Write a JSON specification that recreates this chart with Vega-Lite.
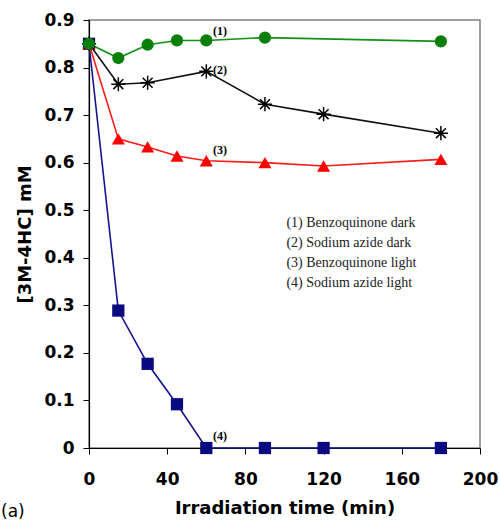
{
  "$schema": "https://vega.github.io/schema/vega-lite/v6.json",
  "width": 391,
  "height": 428,
  "autosize": {"type": "none"},
  "padding": {"left": 89, "top": 20, "right": 20, "bottom": 74},
  "background": "white",
  "config": {
    "view": {"stroke": "#808080", "strokeWidth": 1.5},
    "axis": {
      "grid": false,
      "domainColor": "black",
      "domainWidth": 1.2,
      "tickColor": "black",
      "tickSize": 6,
      "labelFlush": false,
      "labelFont": "DejaVu Sans",
      "labelFontWeight": "bold",
      "labelFontSize": 17,
      "labelColor": "black",
      "titleFont": "DejaVu Sans",
      "titleFontWeight": "bold",
      "titleFontSize": 18,
      "titleColor": "black"
    }
  },
  "datasets": {
    "series": [
      {"s": "4", "t": 0, "v": 0.85}, {"s": "4", "t": 15, "v": 0.289}, {"s": "4", "t": 30, "v": 0.177}, {"s": "4", "t": 45, "v": 0.092}, {"s": "4", "t": 60, "v": 0.0}, {"s": "4", "t": 90, "v": 0.0}, {"s": "4", "t": 120, "v": 0.0}, {"s": "4", "t": 180, "v": 0.0},
      {"s": "3", "t": 0, "v": 0.85}, {"s": "3", "t": 15, "v": 0.65}, {"s": "3", "t": 30, "v": 0.633}, {"s": "3", "t": 45, "v": 0.614}, {"s": "3", "t": 60, "v": 0.604}, {"s": "3", "t": 90, "v": 0.6}, {"s": "3", "t": 120, "v": 0.593}, {"s": "3", "t": 180, "v": 0.607},
      {"s": "2", "t": 0, "v": 0.85}, {"s": "2", "t": 15, "v": 0.765}, {"s": "2", "t": 30, "v": 0.768}, {"s": "2", "t": 60, "v": 0.792}, {"s": "2", "t": 90, "v": 0.723}, {"s": "2", "t": 120, "v": 0.702}, {"s": "2", "t": 180, "v": 0.662},
      {"s": "1", "t": 0, "v": 0.85}, {"s": "1", "t": 15, "v": 0.82}, {"s": "1", "t": 30, "v": 0.848}, {"s": "1", "t": 45, "v": 0.857}, {"s": "1", "t": 60, "v": 0.857}, {"s": "1", "t": 90, "v": 0.863}, {"s": "1", "t": 180, "v": 0.855}
    ],
    "tags": [
      {"label": "(1)", "t": 67, "v": 0.877},
      {"label": "(2)", "t": 67, "v": 0.795},
      {"label": "(3)", "t": 67, "v": 0.627},
      {"label": "(4)", "t": 67, "v": 0.025}
    ],
    "legend": [
      {"label": "(1) Benzoquinone dark", "t": 101, "v": 0.473},
      {"label": "(2) Sodium azide dark", "t": 101, "v": 0.431},
      {"label": "(3) Benzoquinone light", "t": 101, "v": 0.389},
      {"label": "(4) Sodium azide light", "t": 101, "v": 0.347}
    ],
    "panel": [
      {"label": "(a)", "t": -45, "v": -0.135}
    ]
  },
  "encoding": {
    "x": {
      "field": "t", "type": "quantitative",
      "scale": {"domain": [0, 200], "nice": false, "zero": false},
      "axis": {"values": [0, 40, 80, 120, 160, 200], "title": "Irradiation time (min)", "labelPadding": 17, "titlePadding": 12}
    },
    "y": {
      "field": "v", "type": "quantitative",
      "scale": {"domain": [0, 0.9], "nice": false, "zero": false},
      "axis": {
        "values": [0, 0.1, 0.2, 0.3, 0.4, 0.5, 0.6, 0.7, 0.8, 0.9],
        "labelExpr": "datum.value == 0 ? '0' : format(datum.value, '.1f')",
        "title": "[3M-4HC] mM",
        "labelPadding": 9,
        "titlePadding": 9
      }
    }
  },
  "layer": [
    {
      "data": {"name": "series"},
      "mark": {"type": "line", "strokeWidth": 1.6},
      "encoding": {
        "color": {
          "field": "s", "type": "nominal",
          "scale": {"domain": ["1", "2", "3", "4"], "range": ["#119011", "#111111", "#ff1a1a", "#14148c"]},
          "legend": null
        },
        "detail": {"field": "s"}
      }
    },
    {
      "data": {"name": "series"},
      "transform": [{"filter": "datum.s == '4'"}],
      "mark": {"type": "point", "shape": "square", "filled": true, "size": 150, "color": "#0a0a80", "opacity": 1}
    },
    {
      "data": {"name": "series"},
      "transform": [{"filter": "datum.s == '3'"}],
      "mark": {"type": "point", "shape": "triangle-up", "filled": true, "size": 170, "color": "#ff0000", "opacity": 1}
    },
    {
      "data": {"name": "series"},
      "transform": [{"filter": "datum.s == '2'"}],
      "mark": {"type": "point", "shape": "M-1,0L1,0M-0.7,-0.7L0.7,0.7M-0.7,0.7L0.7,-0.7M0,-1L0,1", "filled": false, "size": 200, "stroke": "black", "strokeWidth": 1.5, "opacity": 1}
    },
    {
      "data": {"name": "series"},
      "transform": [{"filter": "datum.s == '1'"}],
      "mark": {"type": "point", "shape": "circle", "filled": true, "size": 150, "color": "#0a800a", "opacity": 1}
    },
    {
      "data": {"name": "tags"},
      "mark": {"type": "text", "font": "Liberation Serif", "fontWeight": "bold", "fontSize": 12, "align": "center", "baseline": "middle", "color": "black"},
      "encoding": {"text": {"field": "label"}}
    },
    {
      "data": {"name": "legend"},
      "mark": {"type": "text", "font": "Liberation Serif", "fontSize": 14, "align": "left", "baseline": "middle", "color": "#222"},
      "encoding": {"text": {"field": "label"}}
    },
    {
      "data": {"name": "panel"},
      "mark": {"type": "text", "font": "DejaVu Sans", "fontSize": 17, "align": "left", "baseline": "middle", "color": "black"},
      "encoding": {"text": {"field": "label"}}
    }
  ]
}
